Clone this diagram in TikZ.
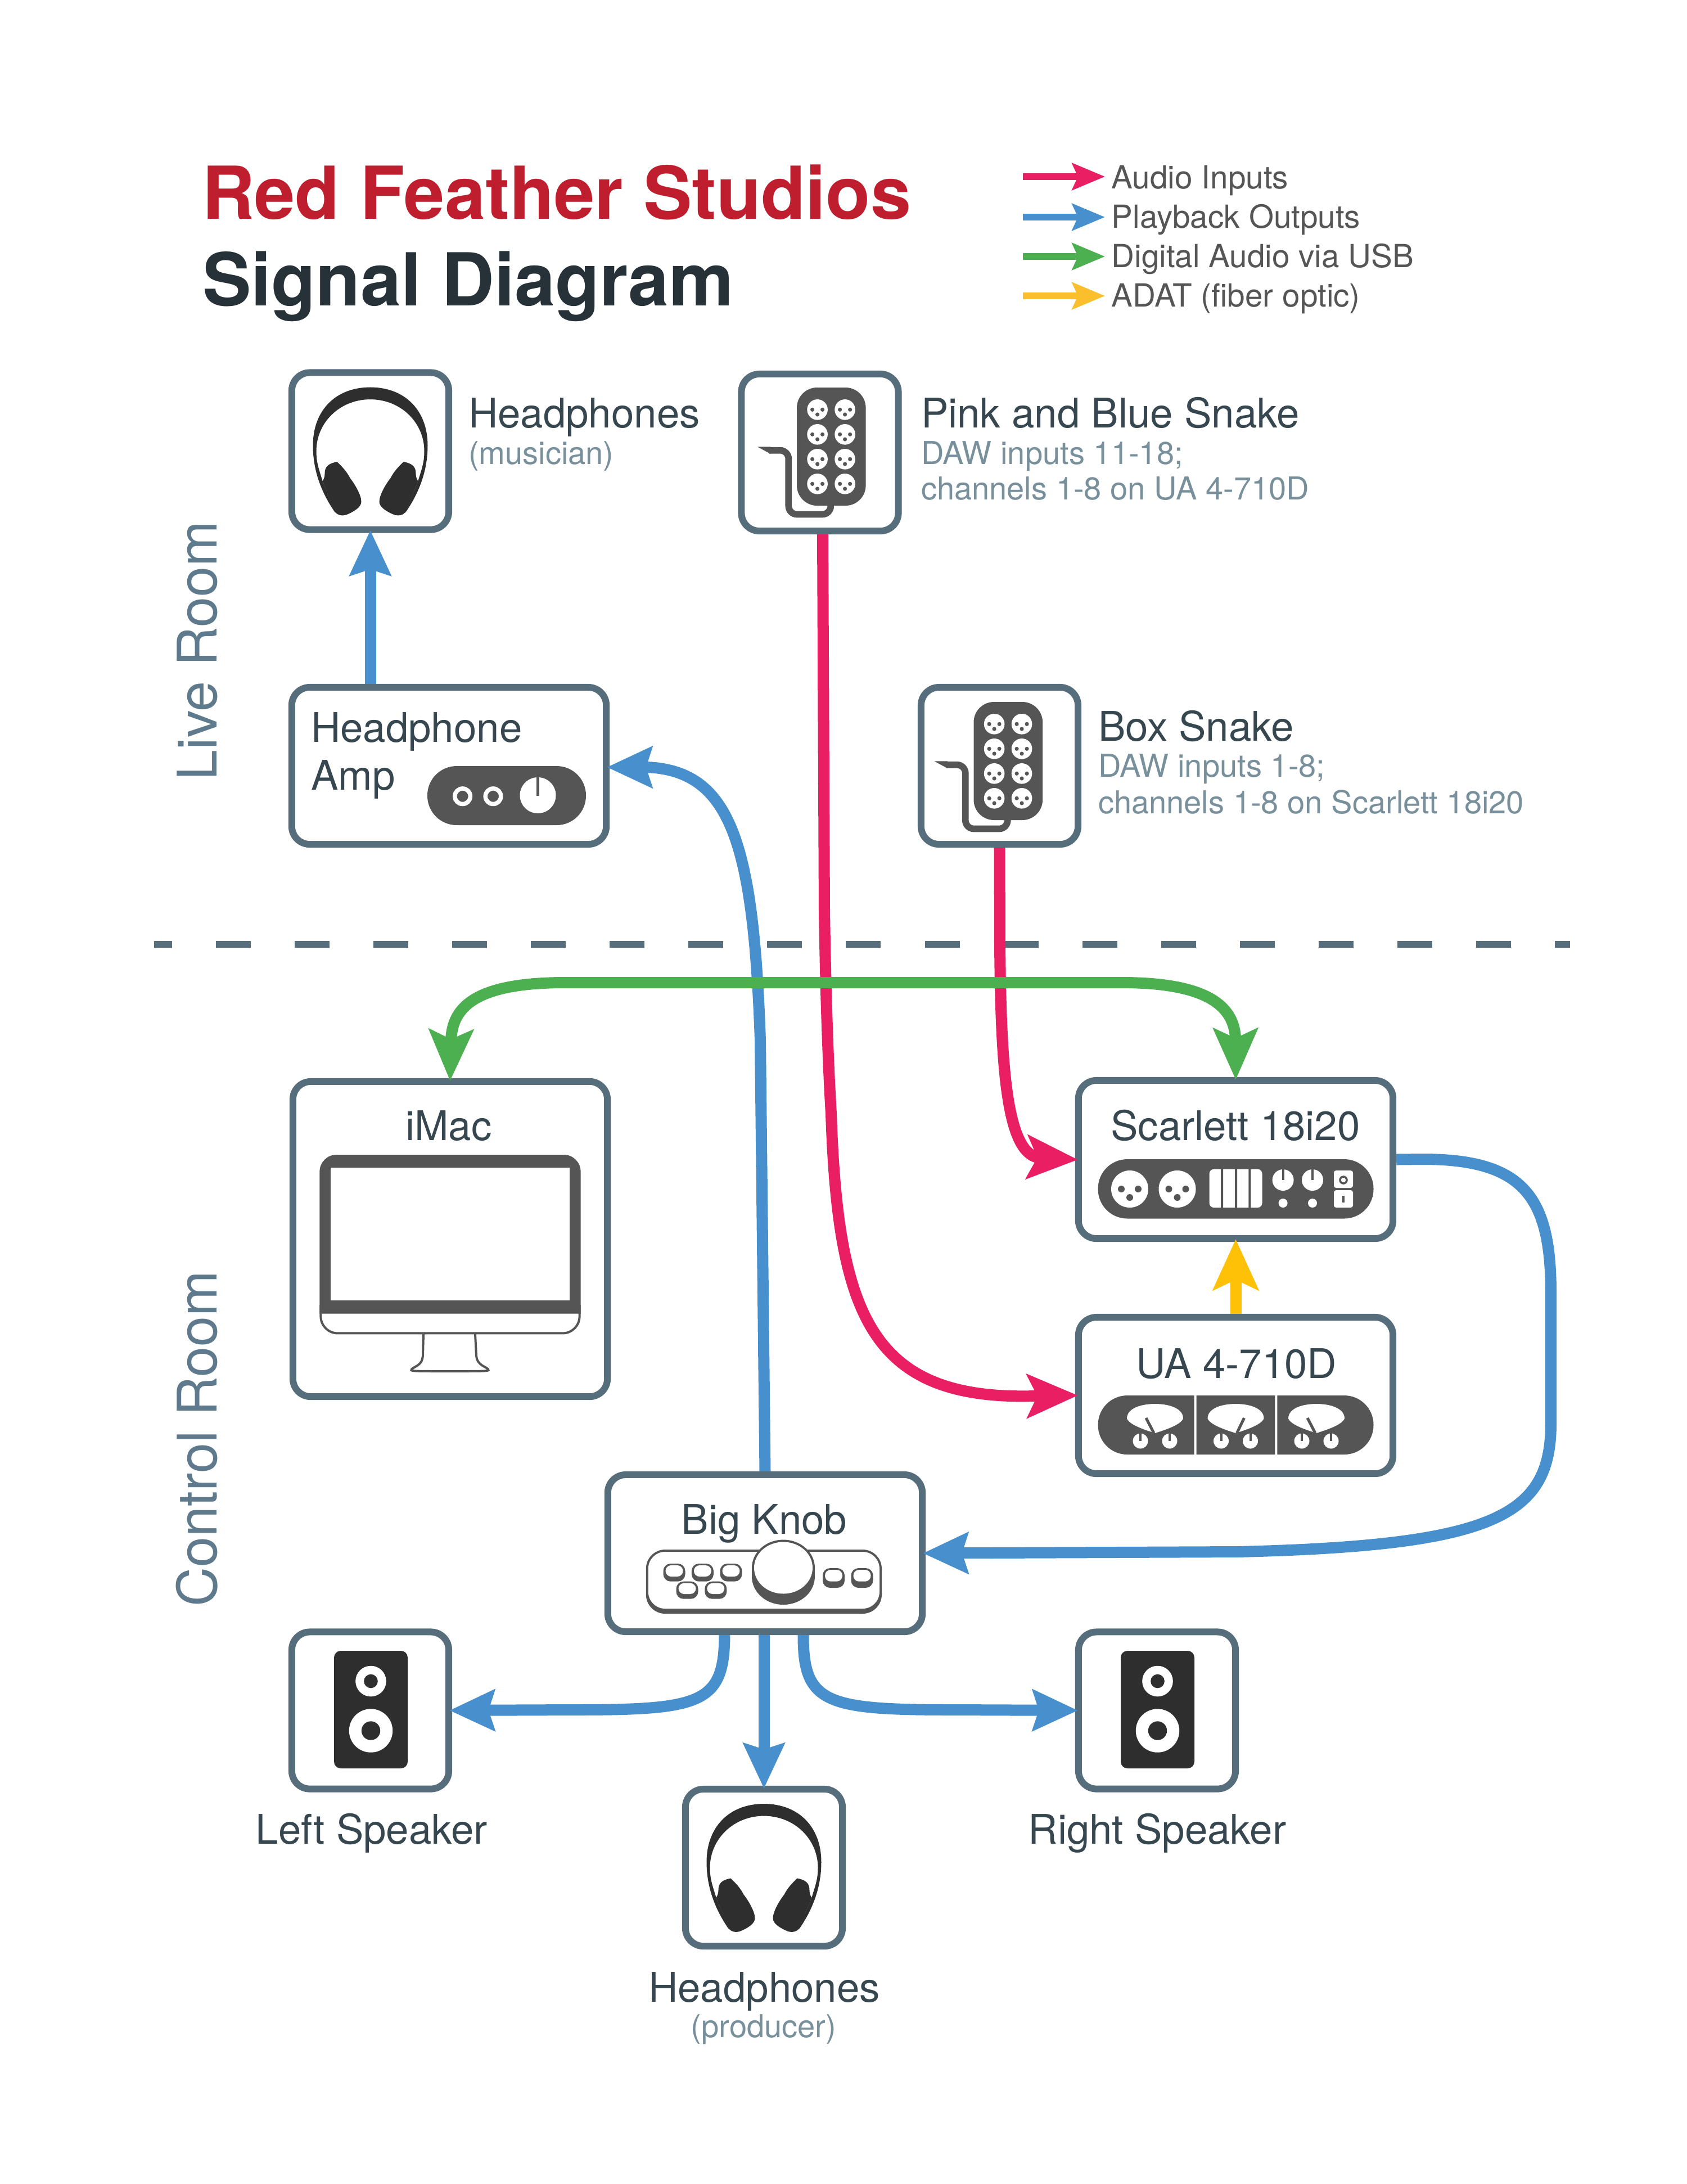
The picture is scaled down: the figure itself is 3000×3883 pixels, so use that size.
\documentclass[tikz,border=0pt]{standalone}
\usepackage{fontspec}
\setmainfont{TeX Gyre Heros}
\usetikzlibrary{arrows.meta}
\definecolor{slate}{HTML}{566D7B}
\definecolor{ink}{HTML}{37474F}
\definecolor{subink}{HTML}{78909C}
\definecolor{roomink}{HTML}{5F7A8C}
\definecolor{titlered}{HTML}{BE1E2D}
\definecolor{titledark}{HTML}{263238}
\definecolor{legendink}{HTML}{555555}
\definecolor{pinkline}{HTML}{E91E63}
\definecolor{blueline}{HTML}{488FCE}
\definecolor{greenline}{HTML}{4CAF50}
\definecolor{yellowline}{HTML}{FFC107}
\definecolor{yellowleg}{HTML}{FBBF2D}
\definecolor{iconfill}{HTML}{555555}
\definecolor{blackfill}{HTML}{2E2E2E}
\newcommand{\fs}[1]{\fontsize{#1}{#1}\selectfont}
\tikzset{
  x=0.01cm,y=-0.01cm,
  devbox/.style={draw=slate,line width=0.12cm,fill=white,rounded corners=0.32cm,inner sep=0pt,minimum width=2.79cm,minimum height=2.79cm},
  widebox/.style={devbox,minimum width=5.59cm},
  lbl/.style={inner sep=0pt,outer sep=0pt,anchor=base west,text=ink,font=\fs{20.65}},
  clbl/.style={lbl,anchor=base},
  sublbl/.style={lbl,text=subink,font=\fs{15.95}},
  roomlbl/.style={inner sep=0pt,anchor=base,rotate=90,text=roomink,font=\fs{27.6}},
  leglbl/.style={inner sep=0pt,anchor=base west,text=legendink,font=\fs{16.1}},
  bluearrow/.style={line width=0.2cm,draw=blueline,shorten >=-0.05cm,-{Stealth[length=0.80cm,width=0.72cm,inset=0.105cm]}},
  pinkarrow/.style={line width=0.2cm,draw=pinkline,shorten >=-0.05cm,-{Stealth[length=0.90cm,width=0.77cm,inset=0.18cm]}},
  yellowarrow/.style={line width=0.2cm,draw=yellowline,shorten >=-0.05cm,-{Stealth[length=0.90cm,width=0.80cm,inset=0.18cm]}},
  greenarrow/.style={line width=0.2cm,draw=greenline,shorten >=-0.05cm,shorten <=-0.05cm,{Stealth[length=0.91cm,width=0.78cm,inset=0.17cm]}-{Stealth[length=0.91cm,width=0.78cm,inset=0.17cm]}},
  legarrow/.style={line width=0.12cm,-{Stealth[length=0.58cm,width=0.47cm,inset=0.10cm]}},
  headphones/.pic={
    \foreach \m in {1,-1}{
      \begin{scope}[xscale=\m]
        \fill[blackfill] (0.5,-113.5) .. controls (-62,-113.5) and (-102,-72) .. (-102,-10)
          .. controls (-102,30) and (-90,70) .. (-62,110) -- (-85,53)
          .. controls (-92,30) and (-96,20) .. (-96,0)
          .. controls (-96,-50) and (-55,-92) .. (0.5,-92) -- cycle;
        \fill[blackfill] (-59,19) .. controls (-75,22) and (-81,28) .. (-81,40)
          .. controls (-81,48) and (-84,52) .. (-85,53) -- (-64,106)
          .. controls (-60,114) and (-50,116) .. (-42,113)
          .. controls (-30,108) and (-16,100) .. (-16,90)
          .. controls (-16,78) and (-28,58) .. (-36,48)
          .. controls (-42,36) and (-50,28) .. (-59,19) -- cycle;
      \end{scope}
    }
  },
  xlrhole/.pic={
    \fill[white] (0,0) circle (18.3);
    \fill[iconfill] (-9,0) circle (3.6) (9,0) circle (3.6) (0,8.7) circle (3.6);
  },
  snakeicon/.pic={
    \fill[iconfill,rounded corners=0.36cm] (-46,-113.5) rectangle (76.6,96.5);
    \foreach \yy in {-74.2,-30.2,13.8,57.8}{
      \path (-9.4,\yy) pic {xlrhole};
      \path (39.6,\yy) pic {xlrhole};
    }
    \draw[iconfill,line width=0.117cm,rounded corners=0.15cm] (-95,-1.8) -- (-60.7,-1.8) -- (-60.7,112) -- (14.3,112) -- (14.3,90);
    \fill[iconfill] (-116,-8.2) -- (-92.7,4.5) -- (-92.7,-8.2) -- cycle;
  },
  speakericon/.pic={
    \fill[blackfill,rounded corners=0.12cm] (-64.5,-106) rectangle (66.5,103);
    \fill[white] (1,-52) circle (27.3) (1,36) circle (38.7);
    \fill[blackfill] (1,-52) circle (12.3) (1,36) circle (16.7);
  },
  smallknob/.pic={
    \fill[white] (0,0) circle (13.5);
    \fill[iconfill] (-2,-14) rectangle (2,0);
  },
  meter/.pic={
    \fill[white] (-50,26) .. controls (-50,8) and (-25,0) .. (0,0) .. controls (25,0) and (50,8) .. (50,26)
      .. controls (45,38) and (15,47) .. (0,52) .. controls (-15,47) and (-45,38) .. (-50,26) -- cycle;
    \path (-26,66) pic {smallknob};
    \path (26,66) pic {smallknob};
  },
}
\newcommand{\btn}[4]{%
  \fill[iconfill,rounded corners=0.13cm] (#1-19.5,#2) rectangle (#1+19.5,#3);
  \fill[white,rounded corners=0.10cm] (#1-15.5,#2+3) rectangle (#1+15.5,#4);
}
\begin{document}
\begin{tikzpicture}
\fill[white] (0,0) rectangle (3000,3883);
\useasboundingbox (0,0) rectangle (3000,3883);

% title and legend
\node[lbl,font=\fs{36.9}\bfseries,text=titlered] (title1) at (359,389) {Red Feather Studios};
\node[lbl,font=\fs{36.9}\bfseries,text=titledark] (title2) at (360,543) {Signal Diagram};

\coordinate (la1) at (1819,314); \coordinate (lb1) at (1965,314);
\coordinate (la2) at (1819,386); \coordinate (lb2) at (1965,386);
\coordinate (la3) at (1819,456); \coordinate (lb3) at (1965,456);
\coordinate (la4) at (1819,526); \coordinate (lb4) at (1965,526);
\draw[legarrow,pinkline] (la1) -- (lb1);
\draw[legarrow,blueline] (la2) -- (lb2);
\draw[legarrow,greenline] (la3) -- (lb3);
\draw[legarrow,yellowleg] (la4) -- (lb4);
\node[leglbl] (leg1) at (1976,335) {Audio Inputs};
\node[leglbl] (leg2) at (1976,405) {Playback Outputs};
\node[leglbl] (leg3) at (1976,475) {Digital Audio via USB};
\node[leglbl] (leg4) at (1976,545) {ADAT (fiber optic)};

% rooms
\node[roomlbl] (liveroom) at (385,1157) {Live Room};
\node[roomlbl] (controlroom) at (385,2558) {Control Room};

% divider
\coordinate (divL) at (273.7,1679); \coordinate (divR) at (2792,1679);
\draw[slate,line width=0.12cm,dash pattern=on 0.62cm off 0.78cm,dash phase=0.30cm] (divL) -- (divR);

% boxes
\node[devbox] (hpm) at (658.5,802) {};
\node[devbox] (snakeA) at (1458,804.5) {};
\node[widebox] (amp) at (798.5,1361.5) {};
\node[devbox] (snakeB) at (1777.5,1361.5) {};
\node[widebox,minimum height=5.6cm] (imac) at (800.5,2203) {};
\node[widebox,minimum height=2.81cm] (scar) at (2197.5,2061.5) {};
\node[widebox,minimum height=2.78cm] (ua) at (2197.5,2481) {};
\node[widebox] (knob) at (1360.5,2761.5) {};
\node[devbox] (spkL) at (658.5,3041) {};
\node[devbox] (spkR) at (2057.5,3041) {};
\node[devbox] (hpp) at (1358.5,3320.5) {};

% connectors
\draw[pinkarrow] ([xshift=0.05cm]snakeA.south) -- (1466,1620) .. controls (1468,1750) and (1472,1880) .. (1478,1980) .. controls (1490,2340) and (1550,2490) .. (1840,2482) -- (ua.west);
\draw[pinkarrow] (snakeB.south) -- (1778,1680) .. controls (1780,1900) and (1790,2045) .. (1845,2058) -- (scar.west);
\draw[bluearrow] (amp.north -| hpm.south) -- (hpm.south);
\draw[bluearrow] (knob.north) -- (1352,1850) .. controls (1340,1500) and (1300,1370) .. (1150,1364) -- ([yshift=-0.025cm]amp.east);
\draw[bluearrow] (scar.east) -- (2530,2061) .. controls (2712,2061) and (2758,2130) .. (2758,2300) -- (2758,2530) .. controls (2758,2695) and (2660,2748) .. (2200,2759) -- (knob.east);
\draw[bluearrow] (knob.south -| hpp.north) -- (hpp.north);
\draw[bluearrow] ([xshift=-0.72cm]knob.south) .. controls (1288,3030) and (1246,3040) .. (1016,3040) -- (spkL.east);
\draw[bluearrow] ([xshift=0.68cm]knob.south) .. controls (1428,3030) and (1470,3040) .. (1700,3040) -- (spkR.west);
\draw[yellowarrow] (ua.north) -- (scar.south);
\draw[greenarrow] (imac.north) .. controls (803,1800) and (830,1748) .. (1000,1747) -- (2000,1747) .. controls (2165,1748) and (2197,1800) .. (scar.north);

% box labels
\node[lbl] (hpmT) at (833,760) {Headphones};
\node[sublbl] (hpmS) at (833,825) {(musician)};
\node[lbl] (snakeAT) at (1638,760) {Pink and Blue Snake};
\node[sublbl] (snakeAS1) at (1638,825) {DAW inputs 11-18;};
\node[sublbl] (snakeAS2) at (1638,888) {channels 1-8 on UA 4-710D};
\node[lbl] (snakeBT) at (1953,1317) {Box Snake};
\node[sublbl] (snakeBS1) at (1953,1381) {DAW inputs 1-8;};
\node[sublbl] (snakeBS2) at (1953,1446) {channels 1-8 on Scarlett 18i20};
\node[lbl] (ampT1) at (553,1319) {Headphone};
\node[lbl] (ampT2) at (553,1404) {Amp};
\node[clbl] (imacT) at (798,2027) {iMac};
\node[clbl] (scarT) at (2197,2027) {Scarlett 18i20};
\node[clbl] (uaT) at (2199,2450) {UA 4-710D};
\node[clbl] (knobT) at (1359,2727) {Big Knob};
\node[clbl] (spkLT) at (661,3278) {Left Speaker};
\node[clbl] (spkRT) at (2058,3278) {Right Speaker};
\node[clbl] (hppT) at (1359,3559) {Headphones};
\node[sublbl,anchor=base] (hppS) at (1358,3622) {(producer)};

% icons
\path (hpm.center) pic {headphones};
\path (hpp.center) pic {headphones};
\path ([xshift=0.05cm,yshift=0.02cm]snakeA.center) pic {snakeicon};
\path (snakeB.center) pic {snakeicon};
\path (spkL.center) pic {speakericon};
\path (spkR.center) pic {speakericon};

% amp icon
\fill[iconfill,rounded corners=0.52cm] (760,1362) rectangle (1042,1467);
\draw[white,line width=0.075cm] (822.6,1415.7) circle (13.8) (877,1415.7) circle (13.8);
\fill[white] (956.5,1414) circle (32);
\fill[iconfill] (954.3,1382) rectangle (958.7,1415);

% scarlett icon
\fill[iconfill,rounded corners=0.52cm] (1952.6,2061) rectangle (2442.5,2166.5);
\foreach \cx in {2009,2093.5}{
  \fill[white] (\cx,2114) circle (33);
  \fill[iconfill] (\cx-15,2114) circle (6) (\cx+15,2114) circle (6) (\cx,2129) circle (6);
}
\fill[white,rounded corners=0.08cm] (2150.6,2078.7) rectangle (2244.5,2147);
\fill[iconfill] (2171,2078) rectangle (2175,2148) (2196,2078) rectangle (2200,2148) (2220.4,2078) rectangle (2224.4,2148);
\foreach \cx in {2281.6,2334}{
  \fill[white] (\cx,2098) circle (19);
  \fill[iconfill] (\cx-2,2078) rectangle (\cx+2,2098);
  \fill[white] (\cx,2139) circle (8);
}
\fill[white,rounded corners=0.04cm] (2372,2081) rectangle (2406,2112);
\fill[white,rounded corners=0.04cm] (2372,2116) rectangle (2406,2147);
\draw[iconfill,line width=0.035cm] (2389,2098) circle (6);
\fill[iconfill] (2387,2126) rectangle (2391,2138);

% UA icon
\fill[iconfill,rounded corners=0.52cm] (1952.6,2481) rectangle (2442.5,2586);
\fill[white] (2123.7,2480) rectangle (2127.7,2587) (2267.4,2480) rectangle (2271.4,2587);
\path (2054,2496) pic {meter};
\path (2197.5,2496) pic {meter};
\path (2341,2496) pic {meter};
\draw[iconfill,line width=0.05cm] (2038,2521) -- (2052,2548);
\draw[iconfill,line width=0.05cm] (2212.5,2521) -- (2199.5,2548);
\draw[iconfill,line width=0.05cm] (2325,2521) -- (2339,2548);

% iMac icon
\draw[iconfill,line width=0.04cm,fill=white] (753,2372) -- (752,2410)
  .. controls (751,2420) and (748,2424) .. (742,2428)
  .. controls (735,2432) and (731,2434) .. (731.5,2436)
  .. controls (733,2438) and (745,2438) .. (800,2438)
  .. controls (855,2438) and (867,2438) .. (868.5,2436)
  .. controls (869,2434) and (865,2432) .. (858,2428)
  .. controls (852,2424) and (848,2420) .. (847,2410) -- (845,2372);
\draw[iconfill,line width=0.04cm,fill=white] (570.4,2320) [rounded corners=0.3cm] -- (570.4,2370.4) -- (1030.6,2370.4) [sharp corners] -- (1030.6,2320);
\fill[iconfill] (568.4,2335.6) [rounded corners=0.3cm] -- (568.4,2053) -- (1032.6,2053) [sharp corners] -- (1032.6,2335.6) -- cycle;
\fill[white] (587.8,2076) rectangle (1013,2312);

% Big Knob icon
\fill[iconfill,rounded corners=0.34cm] (1148.8,2755) rectangle (1568,2869);
\fill[white,rounded corners=0.30cm] (1152.8,2759) rectangle (1564,2860);
\fill[iconfill] (1393,2787.5) ellipse [x radius=56,y radius=50];
\fill[iconfill] (1393,2803) ellipse [x radius=56,y radius=50];
\fill[iconfill] (1337,2787.5) rectangle (1449,2803);
\fill[white] (1393,2787.5) ellipse [x radius=52,y radius=46];
\btn{1199}{2780}{2811.7}{2803}
\btn{1249.4}{2780}{2811.7}{2803}
\btn{1300}{2780}{2811.7}{2803}
\btn{1222}{2811.7}{2842.7}{2834}
\btn{1272.8}{2811.7}{2842.7}{2834}
\btn{1482.5}{2788}{2823}{2811.7}
\btn{1533}{2788}{2823}{2811.7}
\end{tikzpicture}
\end{document}
